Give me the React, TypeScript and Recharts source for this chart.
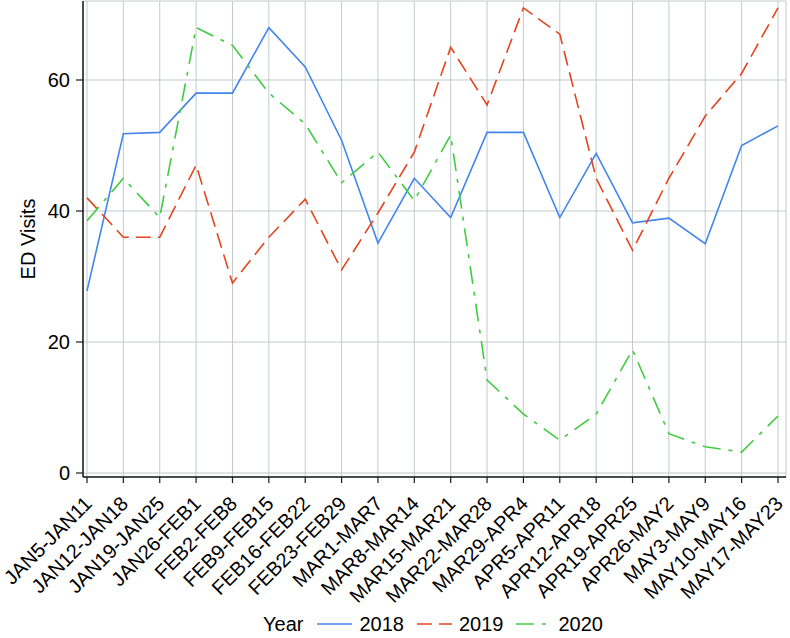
import { LineChart, Line, XAxis, YAxis, CartesianGrid, Legend } from "recharts";

const categories = [
  "JAN5-JAN11", "JAN12-JAN18", "JAN19-JAN25", "JAN26-FEB1", "FEB2-FEB8",
  "FEB9-FEB15", "FEB16-FEB22", "FEB23-FEB29", "MAR1-MAR7", "MAR8-MAR14",
  "MAR15-MAR21", "MAR22-MAR28", "MAR29-APR4", "APR5-APR11", "APR12-APR18",
  "APR19-APR25", "APR26-MAY2", "MAY3-MAY9", "MAY10-MAY16", "MAY17-MAY23",
];

const visits2018 = [27.8, 51.8, 52, 58, 58, 68, 62, 50.8, 35.1, 45, 39, 52, 52, 39, 48.8, 38.2, 38.9, 35, 50, 53];
const visits2019 = [42, 36, 36, 47, 29, 36, 41.8, 31, 39.7, 49, 65, 56.2, 71, 67, 45, 34, 45, 54.5, 61, 71];
const visits2020 = [38.5, 45, 39, 68, 65.3, 58, 53.3, 44.3, 49, 41.6, 51.6, 14.2, 9, 5, 9, 18.8, 6, 4, 3.2, 8.7];

const yTicks = [0, 20, 40, 60];

const series = [
  { key: "y2018", name: "2018", color: "#4285ee", dash: undefined as string | undefined },
  { key: "y2019", name: "2019", color: "#e2461e", dash: "15 7" },
  { key: "y2020", name: "2020", color: "#40cc40", dash: "18 8 4 8" },
];

const data = categories.map((week, i) => ({
  week,
  y2018: visits2018[i],
  y2019: visits2019[i],
  y2020: visits2020[i],
}));

const FONT = "'Liberation Sans', Arial, Helvetica, sans-serif";
const FS = 20;
const GRID = "#c2cace";
const AXIS = "#1a1a1a";

function WeekTick(props: any) {
  const { x, y, payload } = props;
  return (
    <g transform={`translate(${x + 6},${y + 22})`}>
      <text textAnchor="end" transform="rotate(-45)" fontSize={FS} fontFamily={FONT} fill="#000">
        {payload.value}
      </text>
    </g>
  );
}

function YearLegend() {
  return (
    <div
      style={{
        display: "flex",
        alignItems: "center",
        justifyContent: "center",
        paddingLeft: 89,
        paddingTop: 8,
        height: 28,
        fontFamily: FONT,
        fontSize: FS,
        color: "#000",
      }}
    >
      <span style={{ marginRight: 14 }}>Year</span>
      {series.map((s) => (
        <span key={s.key} style={{ display: "flex", alignItems: "center", marginRight: 13 }}>
          <svg width={35} height={4} style={{ marginRight: 7 }}>
            <line x1={0} y1={2} x2={35} y2={2} stroke={s.color} strokeWidth={1.5} strokeDasharray={s.dash} />
          </svg>
          <span>{s.name}</span>
        </span>
      ))}
    </div>
  );
}

export default function App() {
  return (
    <div style={{ position: "absolute", left: 0, top: 0, background: "#fff" }}>
      <LineChart width={790} height={638} data={data} margin={{ top: 1, right: 4, bottom: 0, left: 0 }}>
        <CartesianGrid stroke={GRID} strokeWidth={1} />
        <XAxis
          dataKey="week"
          interval={0}
          padding={{ left: 4, right: 8 }}
          height={125}
          tickSize={6}
          tickMargin={0}
          tick={<WeekTick />}
          axisLine={{ stroke: AXIS, strokeWidth: 1.5 }}
          tickLine={{ stroke: AXIS, strokeWidth: 1.2 }}
        />
        <XAxis
          xAxisId="top"
          dataKey="week"
          orientation="top"
          height={0}
          tick={false}
          tickLine={false}
          axisLine={{ stroke: AXIS, strokeWidth: 2 }}
        />
        <YAxis
          width={83}
          domain={[-0.61, 72.06]}
          allowDataOverflow
          ticks={yTicks}
          tickSize={7}
          tickMargin={6}
          tick={{ fontSize: FS, fontFamily: FONT, fill: "#000" }}
          axisLine={{ stroke: AXIS, strokeWidth: 1.5 }}
          tickLine={{ stroke: AXIS, strokeWidth: 1.2 }}
          label={(p: any) => {
            const vb = p.viewBox || { y: 1, height: 476 };
            const cy = vb.y + vb.height / 2;
            return (
              <text
                x={28}
                y={cy}
                transform={`rotate(-90, 28, ${cy})`}
                textAnchor="middle"
                dominantBaseline="central"
                fontSize={FS}
                fontFamily={FONT}
                fill="#000"
              >
                ED Visits
              </text>
            );
          }}
        />
        <YAxis
          yAxisId="right"
          orientation="right"
          width={0}
          tick={false}
          tickLine={false}
          axisLine={{ stroke: AXIS, strokeWidth: 2 }}
        />
        {series.map((s) => (
          <Line
            key={s.key}
            type="linear"
            dataKey={s.key}
            name={s.name}
            stroke={s.color}
            strokeWidth={1.6}
            strokeDasharray={s.dash}
            dot={false}
            activeDot={false}
            isAnimationActive={false}
          />
        ))}
        <Legend
          verticalAlign="bottom"
          height={36}
          wrapperStyle={{ left: 0, width: 790 }}
          content={() => <YearLegend />}
        />
      </LineChart>
    </div>
  );
}
